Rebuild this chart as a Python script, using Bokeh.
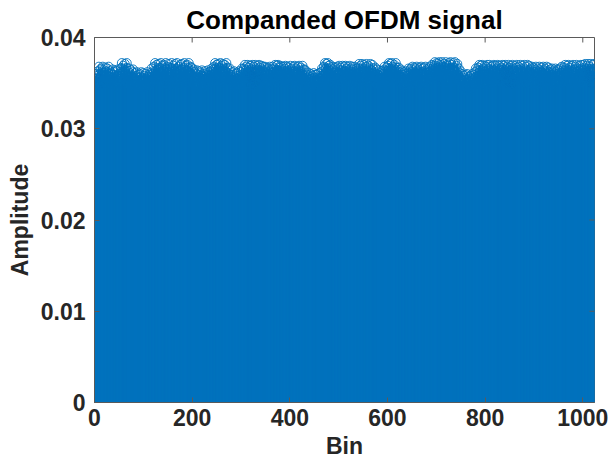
import numpy as np
from bokeh.plotting import figure
from bokeh.models import Range1d, FixedTicker, ColumnDataSource
from bokeh.embed import file_html
from bokeh.resources import INLINE

# Amplitude values (units of 1e-4), 128 bins per block
seg0 = [352, 358, 349, 360, 355, 347,
        363, 356, 368, 351, 360, 365, 348, 366, 357, 361, 368, 353, 359, 364, 350, 367, 356, 362, 349, 366,
        358, 354, 368, 360, 352, 363, 357,
        361, 350, 356, 365, 353, 359, 348, 362, 364, 351, 357, 346, 363, 358, 365, 352, 360, 349, 355, 362,
        366, 358, 372, 361, 353, 369, 364, 356, 371, 360, 350, 367, 372, 357, 363,
        359, 352, 366, 355, 361, 348, 364, 357, 350, 362, 365, 354,
        355, 348, 361, 352, 358, 346, 362, 353, 349, 359, 356, 344, 360, 351, 357, 362, 347, 354, 350, 361,
        345, 358, 353, 349, 360, 355, 346, 362, 352, 357, 348, 359, 354, 350, 361,
        356, 366, 351, 360, 363, 354,
        368, 359, 372, 363, 355, 370, 361]
seg1 = [365, 358, 371, 352, 367, 362, 356, 372, 360, 349, 369, 363, 355, 370, 358, 366, 351, 372, 361, 357,
        368, 353, 364, 371, 359, 347, 367, 362, 356, 372, 360, 365, 350, 369, 357, 363, 371, 354, 366, 359,
        372, 352, 361, 368, 356, 364, 349, 370, 358, 365, 371, 355, 362, 367, 353, 372, 360, 357, 369, 351,
        364, 370, 358, 366, 372, 355, 361, 368, 359,
        360, 367, 352, 363, 356, 365,
        357, 349, 362, 353, 360, 346, 364, 355, 351, 359, 363, 348, 356, 361, 352, 358, 364, 345, 354, 360,
        350, 357, 363, 347, 355, 361, 352, 359, 364, 349, 356, 362, 351, 358, 363,
        359, 366, 353, 362, 357, 365,
        368, 361, 372, 355, 366, 370, 358, 364, 371, 352, 367, 360]
seg2 = [365, 372, 357, 369, 362, 354, 371, 360, 366, 350, 370, 363, 358, 372, 355, 367, 361,
        356, 364, 350, 366, 359, 353,
        357, 349, 362, 353, 359, 346, 363, 351, 356, 360, 348, 355, 361, 352, 358, 344, 363, 354, 350, 359,
        362, 355, 366, 358, 351, 364,
        366, 359, 370, 353, 364, 368, 356, 361, 370, 350, 367, 362, 355, 369, 358, 365, 348, 370, 360, 354,
        368, 363, 357, 370, 352, 366, 361, 369, 355, 364, 359, 370, 351, 367, 362, 356, 369, 360, 365, 353,
        368,
        361, 354, 368, 358, 364, 350, 367, 360, 355, 366, 352, 363, 368, 357, 361, 349, 365, 359, 368, 353,
        362,
        366, 358, 370, 362, 355, 369, 364, 351, 370, 360, 367, 356, 363, 369,
        361, 368, 355]
seg3 = [364, 357, 368,
        360, 366, 352, 369, 358, 363, 355, 368, 361, 349, 367, 356, 364, 369, 353, 360, 366, 350, 362, 368,
        357, 363, 369, 354, 359, 366, 351, 361, 368, 356, 364, 369, 353, 360, 367, 358, 362, 348, 369, 355,
        365,
        358, 365, 351, 361, 355, 363, 348, 359,
        354, 347, 361, 350, 357, 344, 360, 352, 348, 358, 355, 343, 361, 351, 356, 346, 359, 353, 349, 360,
        345, 356, 352, 361, 348, 355, 358,
        362, 355, 366, 358, 352, 364,
        368, 360, 372, 355, 366, 371, 358, 364, 372, 352, 369, 361, 357, 370, 363,
        359, 366, 352, 368, 361, 356, 364, 349, 367, 358, 362, 354, 368, 360,
        365, 356, 369, 361, 353, 367, 359, 364, 350, 369, 357, 362, 368, 355]
seg4 = [363, 369, 358, 366, 352, 361, 368, 355, 364, 360, 369, 351, 366, 357, 362, 368, 354, 360, 365,
        358, 368, 352, 363, 356, 366, 361, 350,
        367, 360, 371, 354, 365, 369, 357, 362, 371, 351, 366, 359, 370, 356, 363, 368, 353, 371, 360, 364,
        357, 369, 362, 350, 367, 371, 358, 364, 355, 370, 361, 366, 359,
        362, 354, 367, 358, 350, 365, 360, 356,
        359, 352, 364, 355, 361, 347, 363, 356, 351, 360, 364, 353,
        361, 368, 355, 364, 358, 367, 352, 363,
        369, 360, 372, 356, 366, 371, 358, 364, 372, 353, 368, 362, 357, 370, 361, 365, 372, 355, 367, 359,
        363,
        358, 367, 352, 362, 356, 365,
        357, 350, 363, 353, 359, 346, 362, 355, 349, 360, 363, 352, 358]
seg5 = [354,
        361, 366, 355, 359, 364, 351, 366,
        362, 356, 368, 353, 364, 359, 367, 350, 361, 366, 357, 368, 352, 363, 358, 365, 349, 367, 360, 355,
        368, 362, 354, 366, 359, 351, 367, 363, 356, 368, 353, 361, 365, 358, 350, 366, 362, 357, 368, 355,
        364,
        360, 370, 356, 366, 362, 369,
        365, 373, 358, 369, 362, 372, 355, 367, 371, 360, 373, 352, 366, 370, 359, 364, 373, 357, 368, 362,
        371, 354, 367, 373, 360, 365, 370, 351, 369, 363, 372, 358, 366, 373, 356, 361, 370, 364, 353, 372,
        367, 359, 373, 362, 356, 369, 365, 371, 360,
        358, 366, 352, 361, 355, 363,
        353, 346, 360, 349, 356, 343, 358, 351, 347, 359, 354, 342, 360, 350, 355, 345, 357, 352]
seg6 = [347, 358, 353, 344, 360, 350, 356, 348, 359,
        355, 362, 349, 366, 357, 352, 364, 360,
        367, 358, 370, 353, 364, 369, 356, 361, 370, 350, 366, 360, 355, 369, 363, 348, 368, 357, 370, 361,
        354, 366, 359, 370, 352, 364, 368, 356, 362, 369, 351, 365, 370, 358, 363, 355, 369, 360, 366, 353,
        370,
        362, 356, 369, 359, 365, 352,
        367, 360, 370, 354, 365, 369, 357, 362, 370, 351, 366, 359, 368, 355, 363, 370, 352, 367, 361, 357,
        369, 364, 350, 370, 358, 366, 362, 355, 369, 360, 353, 367, 370, 357, 364, 349, 368, 361, 356, 370,
        363, 352, 366, 369, 358, 362, 355, 370, 360, 365, 351, 368, 357, 363, 370,
        361, 355, 369, 358, 364, 350,
        366, 357, 368]
seg7 = [360, 354, 367, 362, 349, 365, 358, 368, 352, 363, 357, 366, 350, 361, 368, 355, 364, 359, 347, 367,
        362, 353, 368, 358, 364, 351, 366, 360, 356, 368, 352, 363,
        358, 367, 353, 362, 356, 365,
        359, 352, 366, 355, 362, 348, 364, 357, 351, 366, 360, 354, 363, 349, 365, 358, 353, 361, 366, 350,
        357,
        362, 368, 355, 364, 359, 367,
        363, 356, 370, 359, 366, 352, 369, 361, 357, 370, 364, 350, 367, 360, 355, 369, 362, 353, 370, 358,
        365, 361, 349, 368, 356, 370, 363, 354, 366, 360, 369, 357, 364, 351, 370,
        360, 366, 353, 370, 358, 364,
        367, 356, 371, 361, 365, 352, 369, 359, 371, 363, 355, 368, 360, 371, 357, 364, 350, 370, 362, 358,
        371, 366]

x_ticks = [0, 200, 400, 600, 800, 1000]
y_ticks = [0, 0.01, 0.02, 0.03, 0.04]
y_tick_labels = ["0", "0.01", "0.02", "0.03", "0.04"]
title_text = "Companded OFDM signal"
x_label = "Bin"
y_label = "Amplitude"
x_lim = (0, 1024)
y_lim = (0, 0.04)

amp = np.array(seg0 + seg1 + seg2 + seg3 + seg4 + seg5 + seg6 + seg7, dtype=float) / 10000.0
bins = np.arange(1, len(amp) + 1)
src = ColumnDataSource(dict(x=bins, y=amp, y0=np.zeros_like(amp)))

FONT = "Liberation Sans"
TXT = "#262626"
BLUE = "#0072BD"
AX = "#5a5a5a"

p = figure(width=609, height=470, x_range=Range1d(*x_lim), y_range=Range1d(*y_lim),
           output_backend="svg", toolbar_location=None, title=title_text,
           min_border_left=94, min_border_right=15, min_border_top=35, min_border_bottom=68)

p.segment(x0="x", y0="y0", x1="x", y1="y", source=src, line_color=BLUE, line_width=1.6)
p.scatter(x="x", y="y", source=src, marker="circle", size=9, fill_color=None,
          line_color=BLUE, line_width=0.9)

# inward tick marks on the top and right edges of the box (from the tick lists)
p.ray(x=x_ticks, y=[y_lim[1]] * len(x_ticks), length=5, length_units="screen",
      angle=-np.pi / 2, line_color=AX, line_width=1)
p.ray(x=[x_lim[1]] * len(y_ticks), y=y_ticks, length=5, length_units="screen",
      angle=np.pi, line_color=AX, line_width=1)

p.xgrid.visible = False
p.ygrid.visible = False
p.outline_line_color = AX
p.outline_line_width = 1
p.background_fill_color = "white"
p.border_fill_color = "white"

p.title.text_font = FONT
p.title.text_font_size = "26px"
p.title.text_font_style = "bold"
p.title.text_color = "#000000"
p.title.align = "center"
p.title.standoff = 5

for ax, ticks in ((p.xaxis[0], x_ticks), (p.yaxis[0], y_ticks)):
    ax.ticker = FixedTicker(ticks=ticks)
    ax.major_tick_in = 5
    ax.major_tick_out = 0
    ax.minor_tick_line_color = None
    ax.axis_line_color = AX
    ax.major_tick_line_color = AX
    ax.major_label_text_font = FONT
    ax.major_label_text_font_size = "23px"
    ax.major_label_text_font_style = "bold"
    ax.major_label_text_color = TXT
    ax.axis_label_text_font = FONT
    ax.axis_label_text_font_size = "23px"
    ax.axis_label_text_font_style = "bold"
    ax.axis_label_text_color = TXT

p.xaxis[0].axis_label = x_label
p.yaxis[0].axis_label = y_label
p.yaxis[0].major_label_overrides = {t: l for t, l in zip(y_ticks, y_tick_labels)}
p.xaxis[0].major_label_standoff = 6
p.yaxis[0].major_label_standoff = 9
p.xaxis[0].axis_label_standoff = 4
p.yaxis[0].axis_label_standoff = 5

open("out.html", "w").write(file_html(p, INLINE))
